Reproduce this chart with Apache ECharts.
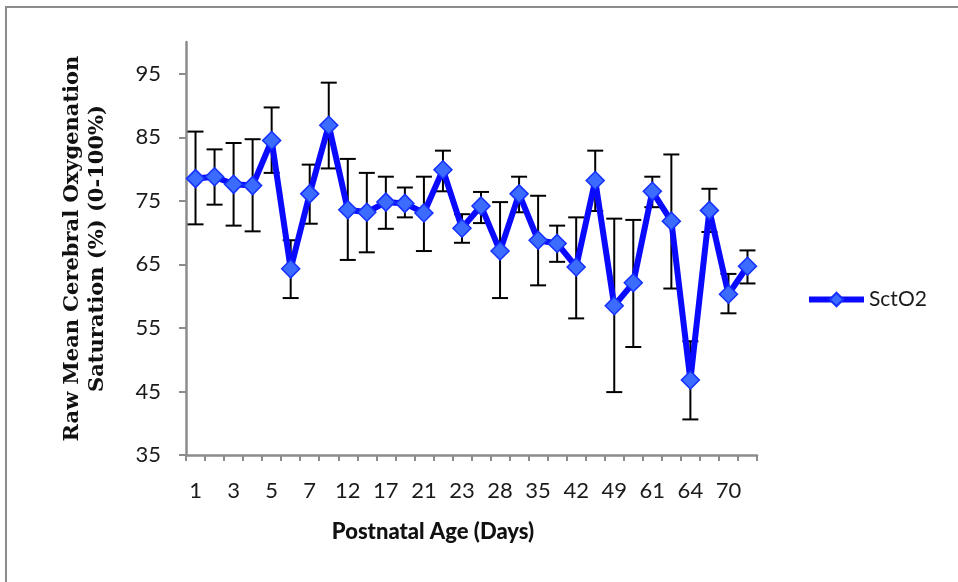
<!DOCTYPE html>
<html>
<head>
<meta charset="utf-8">
<script src="https://cdn.jsdelivr.net/npm/echarts@6/dist/echarts.min.js"></script>
<style>
  html, body { margin: 0; padding: 0; background: #fff; }
  #chart { width: 958px; height: 582px; }
</style>
</head>
<body>
<div id="chart"></div>
<script>
// Postnatal age categories (days); every other one is labelled on the axis
const categories = ['1','2','3','4','5','6','7','9','12','14','17','19','21','22','23','26','28','31','35','38','42','45','49','56','61','63','64','67','70','77'];
// Raw mean SctO2 (%)
const meanValues = [78.5, 78.8, 77.6, 77.4, 84.5, 64.3, 76.1, 86.9, 73.6, 73.2, 74.8, 74.6, 73.1, 79.9, 70.7, 74.2, 67.1, 76.1, 68.8, 68.3, 64.6, 78.2, 58.5, 62.1, 76.5, 71.8, 46.8, 73.5, 60.3, 64.7];
// Error bar ends
const upperValues = [85.9, 83.1, 84.1, 84.7, 89.7, 68.8, 80.7, 93.6, 81.6, 79.4, 78.8, 77.1, 78.8, 82.9, 72.9, 76.4, 74.8, 78.8, 75.8, 71.1, 72.4, 82.9, 72.2, 72.0, 78.8, 82.3, 52.9, 76.9, 63.5, 67.2];
const lowerValues = [71.3, 74.4, 71.1, 70.2, 79.4, 59.7, 71.4, 80.1, 65.7, 66.9, 70.6, 72.4, 67.1, 76.5, 68.4, 71.5, 59.7, 73.2, 61.7, 65.4, 56.5, 73.4, 44.9, 52.0, 74.0, 61.2, 40.6, 70.1, 57.3, 62.0];
// Y tick labels
const yTicks = [35, 45, 55, 65, 75, 85, 95];

const seriesName = 'SctO2';
const errorData = categories.map((c, i) => [i, lowerValues[i], upperValues[i]]);

const chart = echarts.init(document.getElementById('chart'), null, { renderer: 'canvas' });

const tickFont = 'Lato, "Open Sans", sans-serif';

chart.setOption({
  animation: false,
  backgroundColor: '#ffffff',
  graphic: [{
    type: 'rect',
    shape: { x: 6, y: 7, width: 1000, height: 1000 },
    style: { fill: 'none', stroke: '#8c8c8c', lineWidth: 2 },
    silent: true
  }],
  legend: {
    data: [seriesName],
    orient: 'vertical',
    left: 801,
    top: 284,
    itemWidth: 55,
    itemHeight: 17,
    itemGap: 0,
    lineStyle: { width: 6, color: '#0a0aff' },
    textStyle: { fontFamily: tickFont, fontSize: 21, color: '#1a1a1a' }
  },
  grid: { left: 186, right: 201, top: 42, bottom: 127 },
  xAxis: {
    type: 'category',
    data: categories,
    boundaryGap: true,
    name: 'Postnatal Age (Days)',
    nameLocation: 'middle',
    nameGap: 66,
    nameTextStyle: { fontFamily: tickFont, fontWeight: 900, fontSize: 22, color: '#111', padding: [0, 77, 0, 0] },
    axisLine: { show: true, lineStyle: { color: '#8c8c8c', width: 2.5 } },
    axisTick: { show: true, interval: 0, length: 6, lineStyle: { color: '#8c8c8c', width: 2 } },
    axisLabel: { interval: 1, margin: 25, fontFamily: tickFont, fontSize: 22, color: '#1a1a1a' },
    splitLine: { show: false }
  },
  yAxis: {
    type: 'value',
    min: 35,
    max: 100,
    name: 'Raw Mean Cerebral Oxygenation\nSaturation (%) (0-100%)',
    nameLocation: 'middle',
    nameRotate: 90,
    nameGap: 76,
    nameTextStyle: { fontFamily: '"DejaVu Serif", serif', fontWeight: 'bold', fontSize: 21, lineHeight: 25, color: '#111' },
    axisLine: { show: true, lineStyle: { color: '#8c8c8c', width: 2.5 } },
    axisTick: { show: true, length: 7, customValues: yTicks, lineStyle: { color: '#8c8c8c', width: 2 } },
    axisLabel: { customValues: yTicks, margin: 25, fontFamily: tickFont, fontSize: 22, color: '#1a1a1a' },
    splitLine: { show: false }
  },
  series: [
    {
      type: 'custom',
      z: 1,
      silent: true,
      data: errorData,
      encode: { x: 0, y: [1, 2] },
      renderItem: function (params, api) {
        const i = api.value(0);
        const lo = api.coord([i, api.value(1)]);
        const hi = api.coord([i, api.value(2)]);
        const hw = 8;
        const style = { stroke: '#000', lineWidth: 2 };
        return {
          type: 'group',
          children: [
            { type: 'line', shape: { x1: lo[0], y1: lo[1], x2: hi[0], y2: hi[1] }, style: style },
            { type: 'line', shape: { x1: hi[0] - hw, y1: hi[1], x2: hi[0] + hw, y2: hi[1] }, style: style },
            { type: 'line', shape: { x1: lo[0] - hw, y1: lo[1], x2: lo[0] + hw, y2: lo[1] }, style: style }
          ]
        };
      }
    },
    {
      name: seriesName,
      type: 'line',
      z: 3,
      data: meanValues,
      symbol: 'diamond',
      symbolSize: 18,
      showAllSymbol: true,
      lineStyle: { color: '#0a0aff', width: 6 },
      itemStyle: { color: '#3b6bff', borderColor: '#1530ff', borderWidth: 1.5 }
    }
  ]
});
</script>
</body>
</html>
